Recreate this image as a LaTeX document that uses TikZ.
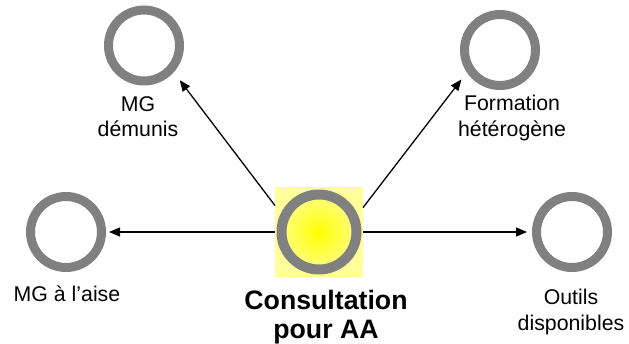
\documentclass[tikz,border=0pt]{standalone}
\usepackage{fontspec}
\setmainfont{Liberation Sans}
\usetikzlibrary{arrows.meta}
\definecolor{ringgray}{RGB}{128,128,128}
\definecolor{paleyellow}{RGB}{255,255,153}
\definecolor{coreyellow}{RGB}{255,255,0}
\definecolor{rimyellow}{RGB}{255,255,130}
\begin{document}
\begin{tikzpicture}[x=1pt,y=-1pt,
  ring/.style={circle, draw=ringgray, line width=9pt, minimum size=71pt, inner sep=0pt, fill=white},
  hub/.style={circle, draw=ringgray, line width=10pt, minimum size=75pt, inner sep=0pt,
    inner color=coreyellow, outer color=rimyellow},
  glow/.style={rectangle, fill=paleyellow, minimum width=88pt, minimum height=90pt, inner sep=0pt, outer sep=0pt},
  lbl/.style={align=center, inner sep=0pt, font=\fontsize{21.3}{25.6}\selectfont},
  hublbl/.style={align=center, inner sep=0pt, font=\fontsize{26.7}{29}\selectfont\bfseries},
  arr/.style={-{Triangle[length=11pt,width=9pt]}, line width=1.3pt, black}]
\useasboundingbox (0,0) rectangle (629,343);

% central topic
\node[glow] (sq) at (319,232) {};
\node[hub] (c) at (319,232) {};

% surrounding topics
\node[ring] (md) at (144,45.5) {};
\node[ring] (fh) at (500,50) {};
\node[ring] (ma) at (66,232) {};
\node[ring] (od) at (572,232) {};

% connectors
\draw[arr, shorten >=10pt] (sq.149) -- (md.-42);
\draw[arr, shorten >=9pt] (sq.29) -- (fh.214);
\draw[arr, shorten >=3pt] (sq.west) -- (ma.east);
\draw[arr, shorten >=5pt] (sq.east) -- (od.west);

% labels
\node[lbl, anchor=north] (tmd) at (138,96) {MG\\démunis};
\node[lbl, anchor=north] (tfh) at (512,95) {Formation\\hétérogène};
\node[lbl, anchor=north] (tma) at (67,286) {MG à l’aise};
\node[lbl, anchor=north] (tod) at (571,289) {Outils\\disponibles};
\node[hublbl, anchor=north] (tc) at (326,290) {Consultation\\pour AA};
\end{tikzpicture}
\end{document}
